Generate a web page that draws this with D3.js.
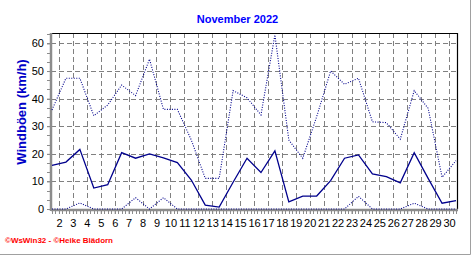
<!DOCTYPE html>
<html>
<head>
<meta charset="utf-8">
<script src="https://cdn.jsdelivr.net/npm/d3@7"></script>
<style>
  body { margin: 0; background: #ffffff; }
  svg { display: block; font-family: "Liberation Sans", Arial, sans-serif; }
</style>
</head>
<body>
<div id="chart"></div>
<script>
// Tage im November 2022
var days = d3.range(1, 31);

// Windböen (km/h): Maximum, Mittel, Minimum je Tag
var boeenMax = [35.9, 47.4, 47.4, 33.8, 37.7, 44.9, 41.1, 54.3, 36.1, 36.1,
                25.0, 11.1, 11.1, 42.9, 40.3, 34.1, 63.1, 25.0, 18.4, 33.5,
                50.0, 45.2, 47.4, 31.6, 31.3, 25.3, 42.9, 36.5, 11.5, 17.5];
var boeenMittel = [15.8, 17.0, 21.6, 7.6, 8.8, 20.4, 18.4, 20.0, 18.5, 16.8,
                   10.5, 1.4, 0.7, 9.7, 18.4, 13.2, 21.1, 2.6, 4.7, 4.7,
                   10.3, 18.4, 19.6, 12.7, 11.7, 9.5, 20.4, 11.1, 2.1, 3.0];
var boeenMin = [0, 0, 2.2, 0, 0, 0, 4.1, 0, 4.1, 0,
                0, 0, 0, 0, 0, 0, 0, 0, 0, 0,
                0, 0, 4.6, 0, 0, 0, 2.1, 0, 0, 0];

var yTicks = [0, 10, 20, 30, 40, 50, 60];
var xLabels = d3.range(2, 31);

var width = 472,
    height = 255;

// plot box ("top" is taken by window.top, so prefix everything)
var plotLeft = 51, plotRight = 457, plotTop = 33, plotBottom = 209;

var lineColor = "#00008c",
    gridColor = "#808080",
    axisColor = "#8c8c8c";

var svg = d3.select("#chart")
    .append("svg")
    .attr("width", width)
    .attr("height", height);

// x: label d sits on midnight of day d, values are plotted at noon
var x = d3.scaleLinear()
    .domain([1.5, 30.5])
    .range([52, 456]);

var y = d3.scaleLinear()
    .domain([0, 64])
    .range([plotBottom, 32.4]);

// Dashed grid
svg.append("g")
    .selectAll("line")
    .data(yTicks.filter(function (d) { return d > 0; }))
    .enter().append("line")
    .attr("x1", plotLeft)
    .attr("x2", plotRight)
    .attr("y1", function (d) { return Math.round(y(d)) + 0.5; })
    .attr("y2", function (d) { return Math.round(y(d)) + 0.5; })
    .style("stroke", gridColor)
    .style("stroke-width", "1px")
    .style("stroke-dasharray", "5,3");

svg.append("g")
    .selectAll("line")
    .data(xLabels)
    .enter().append("line")
    .attr("x1", function (d) { return Math.round(x(d)) + 0.5; })
    .attr("x2", function (d) { return Math.round(x(d)) + 0.5; })
    .attr("y1", plotTop)
    .attr("y2", plotBottom)
    .style("stroke", gridColor)
    .style("stroke-width", "1px")
    .style("stroke-dasharray", "5,3");

// Frame top and right
svg.append("path")
    .attr("d", "M" + plotLeft + "," + (plotTop + 0.5) + "H" + (plotRight + 0.5) + "V" + plotBottom)
    .style("fill", "none")
    .style("stroke", "#000000")
    .style("stroke-width", "1.2px");

// Minor ticks
var yMinor = d3.range(0, 64, 10 / 3);
svg.append("g")
    .selectAll("line")
    .data(yMinor)
    .enter().append("line")
    .attr("x1", plotLeft - 4)
    .attr("x2", plotLeft)
    .attr("y1", function (d) { return Math.round(y(d)) + 0.5; })
    .attr("y2", function (d) { return Math.round(y(d)) + 0.5; })
    .style("stroke", axisColor)
    .style("stroke-width", "1px");

var xMinor = d3.range(1.5, 30.51, 0.25);
svg.append("g")
    .selectAll("line")
    .data(xMinor)
    .enter().append("line")
    .attr("x1", function (d) { return Math.round(x(d)) + 0.5; })
    .attr("x2", function (d) { return Math.round(x(d)) + 0.5; })
    .attr("y1", plotBottom)
    .attr("y2", plotBottom + 5)
    .style("stroke", axisColor)
    .style("stroke-width", "1px");

// Axes with labels
var yAxis = svg.append("g")
    .attr("transform", "translate(" + plotLeft + ",0)")
    .call(d3.axisLeft(y).tickValues(yTicks).tickSize(4).tickPadding(3));

var xAxis = svg.append("g")
    .attr("transform", "translate(0," + plotBottom + ")")
    .call(d3.axisBottom(x).tickValues(xLabels).tickSize(5).tickPadding(5));

[yAxis, xAxis].forEach(function (g) {
    g.select(".domain").remove();
    g.selectAll(".tick line").style("stroke", axisColor);
    g.selectAll("text")
        .style("font-family", "'Liberation Sans', Arial, sans-serif")
        .style("font-size", "11px")
        .style("fill", "#000000");
});

// Thick grey axis lines
svg.append("line")
    .attr("x1", plotLeft).attr("x2", plotLeft)
    .attr("y1", plotTop).attr("y2", plotBottom + 2)
    .style("stroke", axisColor)
    .style("stroke-width", "2.5px");

svg.append("line")
    .attr("x1", plotLeft).attr("x2", plotRight + 1)
    .attr("y1", plotBottom + 1).attr("y2", plotBottom + 1)
    .style("stroke", axisColor)
    .style("stroke-width", "2.5px");

// Series
function drawSeries(values, dotted) {
    var line = d3.line()
        .x(function (d, i) { return x(days[i] + 0.5); })
        .y(function (d) { return y(d); });

    svg.append("path")
        .datum(values)
        .attr("d", line)
        .style("fill", "none")
        .style("stroke", lineColor)
        .style("stroke-width", dotted ? "1.1px" : "1.3px")
        .style("stroke-dasharray", dotted ? "1,1.5" : null);
}

drawSeries(boeenMax, true);
drawSeries(boeenMin, true);
drawSeries(boeenMittel, false);

// Title
svg.append("text")
    .attr("x", 237.5)
    .attr("y", 23)
    .attr("text-anchor", "middle")
    .style("font-size", "11px")
    .style("font-weight", "bold")
    .style("fill", "#0000ff")
    .text("November 2022");

// y axis label
svg.append("text")
    .attr("transform", "translate(26,112) rotate(-90)")
    .attr("text-anchor", "middle")
    .style("font-size", "13px")
    .style("font-weight", "bold")
    .style("fill", "#0000c8")
    .text("Windböen (km/h)");

// Footer
svg.append("text")
    .attr("x", 5)
    .attr("y", 243)
    .attr("textLength", 108)
    .attr("lengthAdjust", "spacingAndGlyphs")
    .style("font-size", "7.5px")
    .style("font-weight", "bold")
    .style("fill", "#ff0000")
    .text("©WsWin32 - ©Heike Blädorn");

// Outer border right and bottom
svg.append("path")
    .attr("d", "M470.5,0V254.5H0")
    .style("fill", "none")
    .style("stroke", "#a0a0a0")
    .style("stroke-width", "1px");
</script>
</body>
</html>
